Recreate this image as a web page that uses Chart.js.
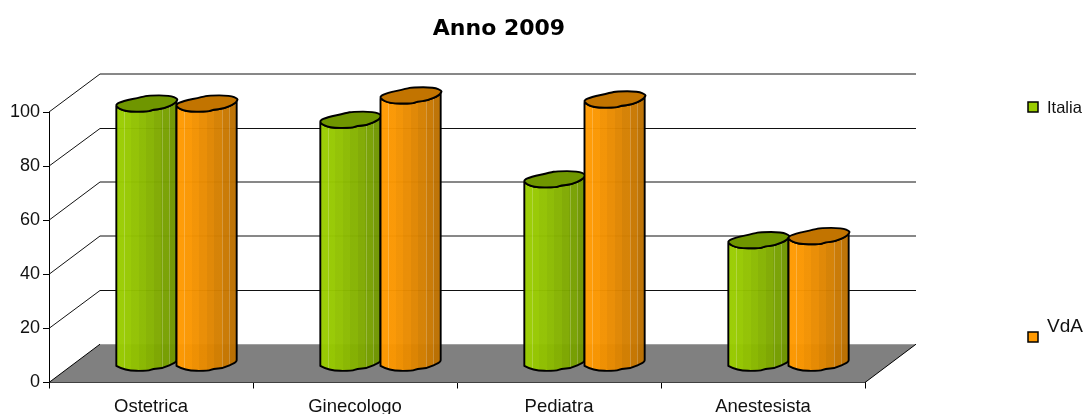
<!DOCTYPE html>
<html>
<head>
<meta charset="utf-8">
<title>Anno 2009</title>
<script src="https://cdn.jsdelivr.net/npm/chart.js@4"></script>
<style>
  html, body { margin: 0; padding: 0; background: #fff; }
  #box { width: 1085px; height: 414px; }
</style>
</head>
<body>
<div id="box"><canvas id="grafico"></canvas></div>
<script>
// Dati
const categorie = ["Ostetrica", "Ginecologo", "Pediatra", "Anestesista"];
const italia = [96, 90, 68, 45.5];
const vda = [96, 99, 97.5, 47];

// Colori delle serie
const coloriLuce = { Italia: [153, 204, 0], VdA: [255, 153, 0] };
const coloriOmbra = { Italia: [112, 150, 0], VdA: [188, 112, 0] };
const coloriTappo = { Italia: "#6F9600", VdA: "#C27400" };

// Prospettiva finta del 3D di Excel
const PROF_X = 51;
const PROF_Y = 38.3;

// Contorno del cilindro, normalizzato: Excel lo disegna a pochi segmenti, un po' storto
const bordoDavanti = [[1, -0.35], [0.97, -0.05], [0.55, 0.68], [0.22, 0.78], [0.05, 1.05], [-0.72, 1.02], [-1, 0.4]];
const bordoDietro = [[-1, 0.05], [-0.8, -0.3], [-0.12, -0.9], [0.06, -1.08], [0.78, -1.08], [1.05, -0.61]];
const SEMI_ALTEZZA = 7.7;

function rgb(c) {
  return `rgb(${c[0]},${c[1]},${c[2]})`;
}

// Linea morbida che passa per i punti medi, estremi esclusi
function traccia(path, punti, inizio) {
  if (inizio) path.moveTo(punti[0][0], punti[0][1]);
  else path.lineTo(punti[0][0], punti[0][1]);
  for (let i = 1; i < punti.length - 1; i++) {
    const mx = (punti[i][0] + punti[i + 1][0]) / 2;
    const my = (punti[i][1] + punti[i + 1][1]) / 2;
    path.quadraticCurveTo(punti[i][0], punti[i][1], mx, my);
  }
  const u = punti[punti.length - 1];
  path.lineTo(u[0], u[1]);
}

function disegnaCilindro(ctx, bar, nome) {
  const a = bar.width / 2;
  const cx = bar.x + PROF_X / 2;
  const yAlto = bar.y - PROF_Y / 2;
  const yBasso = bar.base - PROF_Y / 2;
  const px = (p, cy) => [cx + p[0] * a, cy + p[1] * SEMI_ALTEZZA];

  // fianco: bande verticali da chiaro a scuro
  const grad = ctx.createLinearGradient(cx - a, 0, cx + a, 0);
  const luce = coloriLuce[nome];
  const ombra = coloriOmbra[nome];
  const bande = 8;
  for (let i = 0; i < bande; i++) {
    const k = Math.pow(i / (bande - 1), 1.3);
    const c = luce.map((v, j) => Math.round(v + (ombra[j] - v) * k));
    grad.addColorStop(i / bande, rgb(c));
    grad.addColorStop((i + 1) / bande, rgb(c));
  }

  const corpo = new Path2D();
  traccia(corpo, bordoDavanti.map((p) => px(p, yAlto)), true);
  traccia(corpo, [...bordoDavanti].reverse().map((p) => px(p, yBasso)), false);
  corpo.closePath();

  ctx.globalAlpha = 0.97;
  ctx.fillStyle = grad;
  ctx.fill(corpo);
  ctx.globalAlpha = 1;

  // righine chiare tra le bande
  ctx.save();
  ctx.clip(corpo);
  ctx.fillStyle = "rgba(255,255,255,0.22)";
  [0.13, 0.76, 0.87].forEach((f) => {
    ctx.fillRect(Math.round(cx - a + f * 2 * a), yAlto - 10, 1, yBasso - yAlto + 20);
  });
  ctx.restore();

  ctx.lineJoin = "round";
  ctx.lineWidth = 1.9;
  ctx.strokeStyle = "#000";
  ctx.stroke(corpo);

  // tappo
  const tappo = new Path2D();
  traccia(tappo, [...bordoDavanti, ...bordoDietro, bordoDavanti[0]].map((p) => px(p, yAlto)), true);
  tappo.closePath();
  ctx.fillStyle = coloriTappo[nome];
  ctx.fill(tappo);
  ctx.stroke(tappo);
}

// Pavimento e griglie di fondo, poi cilindri e legenda
const plugin3d = {
  id: "finto3d",
  // il titolo nel grafico originale e' centrato su 499, non sull'area del grafico
  afterLayout(chart) {
    chart.titleBlock.left = 0;
    chart.titleBlock.right = 998;
  },
  beforeDatasetsDraw(chart) {
    const { ctx, chartArea, scales } = chart;
    const { left, right, bottom } = chartArea;

    ctx.save();
    ctx.strokeStyle = "#111";
    ctx.lineWidth = 1;
    scales.y.ticks.forEach((tick) => {
      if (tick.value === 0) return;
      const y = scales.y.getPixelForValue(tick.value);
      // 80 e 20 nitide, le altre a cavallo di due pixel come nell'originale
      const yFondo = Math.round(y - PROF_Y) + (tick.value === 80 || tick.value === 20 ? 0.5 : 0);
      ctx.beginPath();
      ctx.moveTo(left, y);
      ctx.lineTo(left + PROF_X, yFondo);
      ctx.lineTo(right + PROF_X, yFondo);
      ctx.stroke();
    });

    ctx.beginPath();
    ctx.moveTo(left, bottom);
    ctx.lineTo(left + PROF_X, bottom - PROF_Y);
    ctx.lineTo(right + PROF_X, bottom - PROF_Y);
    ctx.lineTo(right, bottom);
    ctx.closePath();
    ctx.fillStyle = "#808080";
    ctx.fill();
    ctx.strokeStyle = "#000";
    ctx.beginPath();
    ctx.moveTo(left, bottom);
    ctx.lineTo(left + PROF_X, bottom - PROF_Y);
    ctx.moveTo(right + PROF_X, bottom - PROF_Y);
    ctx.lineTo(right, bottom);
    ctx.stroke();
    ctx.restore();
  },
  // la barra piatta non serve, il cilindro la sostituisce
  beforeDatasetDraw() {
    return false;
  },
  afterDatasetsDraw(chart) {
    const { ctx } = chart;
    ctx.save();
    categorie.forEach((_, i) => {
      chart.data.datasets.forEach((ds, d) => {
        disegnaCilindro(ctx, chart.getDatasetMeta(d).data[i], ds.label);
      });
    });
    ctx.restore();
  },
  afterDraw(chart) {
    const { ctx } = chart;
    const legenda = [
      { x: 1028, y: 102, xt: 1047, yt: 108, size: 16.5 },
      { x: 1028, y: 332, xt: 1047, yt: 327, size: 19 },
    ];
    ctx.save();
    chart.data.datasets.forEach((ds, d) => {
      const l = legenda[d];
      ctx.fillStyle = ds.backgroundColor;
      ctx.strokeStyle = "#000";
      ctx.lineWidth = 1.5;
      ctx.fillRect(l.x, l.y, 10, 10);
      ctx.strokeRect(l.x, l.y, 10, 10);
      ctx.fillStyle = "#111";
      ctx.font = `${l.size}px "Liberation Sans"`;
      ctx.textBaseline = "middle";
      ctx.fillText(ds.label, l.xt, l.yt);
    });
    ctx.restore();
  },
};

new Chart(document.getElementById("grafico"), {
  type: "bar",
  data: {
    labels: categorie,
    datasets: [
      { label: "Italia", data: italia, backgroundColor: "#99CC00" },
      { label: "VdA", data: vda, backgroundColor: "#FF9900" },
    ],
  },
  options: {
    responsive: true,
    maintainAspectRatio: false,
    animation: false,
    layout: { padding: { right: 220 } },
    categoryPercentage: 0.59,
    barPercentage: 1,
    plugins: {
      legend: { display: false },
      tooltip: { enabled: false },
      title: {
        display: true,
        text: "Anno 2009",
        color: "#000",
        font: { family: '"DejaVu Sans"', size: 22, weight: "bold" },
        padding: { top: 16, bottom: 69.6 },
      },
    },
    scales: {
      x: {
        afterFit: (s) => { s.height = 31.5; },
        grid: { drawOnChartArea: false, color: "#000", tickLength: 6 },
        border: { color: "#000" },
        ticks: {
          color: "#111",
          padding: 7,
          maxRotation: 0,
          font: { family: '"Liberation Sans"', size: 18.5 },
        },
      },
      y: {
        min: 0,
        max: 100,
        afterFit: (s) => { s.width = 49; },
        grid: { drawOnChartArea: false, color: "#000", tickLength: 6 },
        border: { color: "#000" },
        ticks: {
          stepSize: 20,
          color: "#111",
          padding: 3,
          font: { family: '"Liberation Sans"', size: 18 },
        },
      },
    },
  },
  plugins: [plugin3d],
});
</script>
</body>
</html>
